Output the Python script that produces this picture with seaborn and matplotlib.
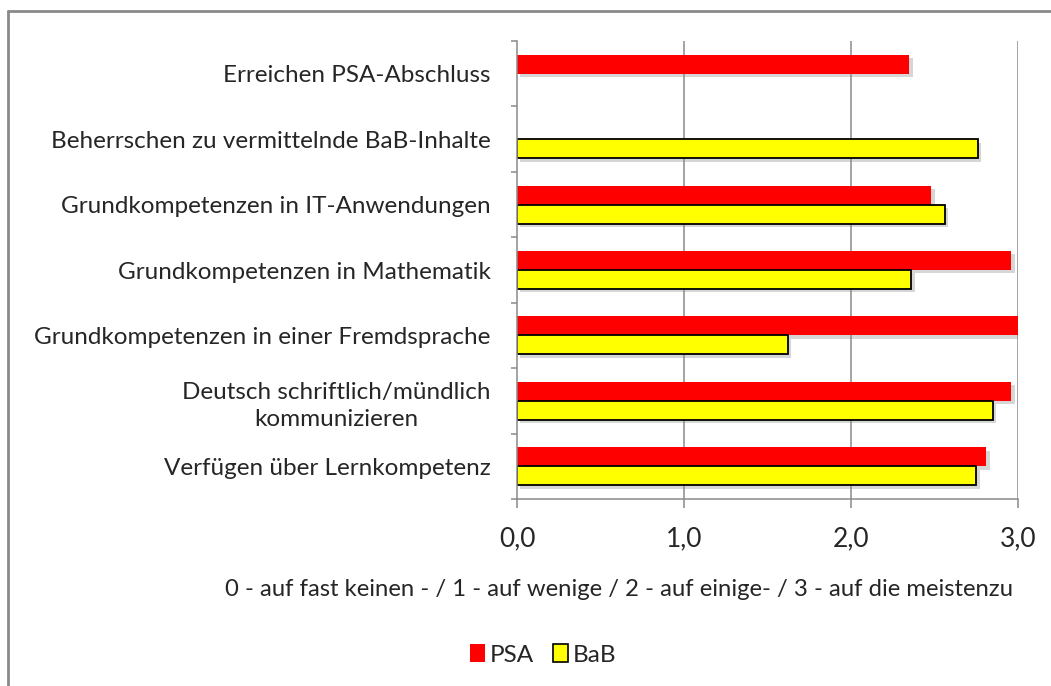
import matplotlib
matplotlib.use("Agg")
import matplotlib.pyplot as plt
import matplotlib.patheffects as pe
from matplotlib.patches import Patch
from matplotlib.lines import Line2D
import numpy as np
import pandas as pd
import seaborn as sns

# data (top to bottom)
categories = [
    "Erreichen PSA-Abschluss",
    "Beherrschen zu vermittelnde BaB-Inhalte",
    "Grundkompetenzen in IT-Anwendungen",
    "Grundkompetenzen in Mathematik",
    "Grundkompetenzen in einer Fremdsprache",
    "Deutsch schriftlich/mündlich\nkommunizieren",
    "Verfügen über Lernkompetenz",
]
psa = [2.35, np.nan, 2.48, 2.96, 3.00, 2.96, 2.81]
bab = [np.nan, 2.76, 2.56, 2.36, 1.62, 2.85, 2.75]
series = ["PSA", "BaB"]
x_ticks = [0, 1, 2, 3]
x_ticklabels = ["0,0", "1,0", "2,0", "3,0"]
x_label = "0 - auf fast keinen - / 1 - auf wenige / 2 - auf einige- / 3 - auf die meistenzu"

colors = {"PSA": "#ff0000", "BaB": "#ffff00"}
grey = "#8a8a8a"

df = pd.DataFrame({
    "Kategorie": categories * 2,
    "Serie": ["PSA"] * len(categories) + ["BaB"] * len(categories),
    "Wert": psa + bab,
})

sns.set_style("white")
plt.rcParams["font.family"] = ["Lato", "DejaVu Sans"]

fig = plt.figure(figsize=(10.51, 6.86), dpi=100)
ax = fig.add_axes([517 / 1051, 1 - 499 / 686, 501 / 1051, 458 / 686])

sns.barplot(data=df, y="Kategorie", x="Wert", hue="Serie", order=categories,
            hue_order=series, palette=colors, orient="h", width=0.58,
            saturation=1, errorbar=None, legend=False, ax=ax)

shadow = [pe.SimplePatchShadow(offset=(2.5, -2.5), shadow_rgbFace="0.55", alpha=0.35), pe.Normal()]
for i, cont in enumerate(ax.containers):
    for bar in cont:
        bar.set_path_effects(shadow)
        if series[i] == "BaB":
            bar.set_edgecolor("black")
            bar.set_linewidth(1.3)
        else:
            bar.set_linewidth(0)

ax.set_xlim(0, 3)
ax.set_ylim(len(categories) - 0.5, -0.5)
ax.set_xlabel("")
ax.set_ylabel("")

# axes styling
ax.grid(False)
for x in x_ticks[1:]:
    ax.axvline(x, color=grey, lw=1.1, zorder=0)
for s in ["top", "right"]:
    ax.spines[s].set_visible(False)
for s in ["left", "bottom"]:
    ax.spines[s].set_color(grey)
    ax.spines[s].set_linewidth(1.1)

ax.set_xticks(x_ticks)
ax.set_xticklabels(x_ticklabels)
ax.tick_params(axis="x", length=6.5, width=1.1, color=grey, pad=13, labelsize=19, direction="out", bottom=True)
ax.set_yticks(range(len(categories)), [c for c in categories])
ax.set_yticks(np.arange(-0.5, len(categories)), minor=True)
ax.tick_params(axis="y", which="major", length=0, pad=19, labelsize=17.5)
ax.tick_params(axis="y", which="minor", length=4.5, width=1.1, color=grey, left=True, direction="out")
for t in ax.get_yticklabels():
    t.set_multialignment("center")
    t.set_linespacing(1.35)

fig.text(619 / 1051, 1 - 590 / 686, x_label, ha="center", va="center", fontsize=17.2)

handles = [Patch(facecolor=colors["PSA"], edgecolor="none"),
           Patch(facecolor=colors["BaB"], edgecolor="black", linewidth=1.2)]
fig.legend(handles, series, loc="center", bbox_to_anchor=(543 / 1051, 1 - 655 / 686),
           ncol=2, frameon=False, fontsize=17.5, handlelength=0.6, handleheight=0.75,
           handletextpad=0.2, columnspacing=0.8)

# outer frame (only top and left visible)
fig.add_artist(Line2D([8 / 1051, 8 / 1051], [0, 1 - 11 / 686], transform=fig.transFigure, color=grey, lw=2))
fig.add_artist(Line2D([8 / 1051, 1], [1 - 11 / 686, 1 - 11 / 686], transform=fig.transFigure, color=grey, lw=2))

fig.savefig("out.png", dpi=100)
